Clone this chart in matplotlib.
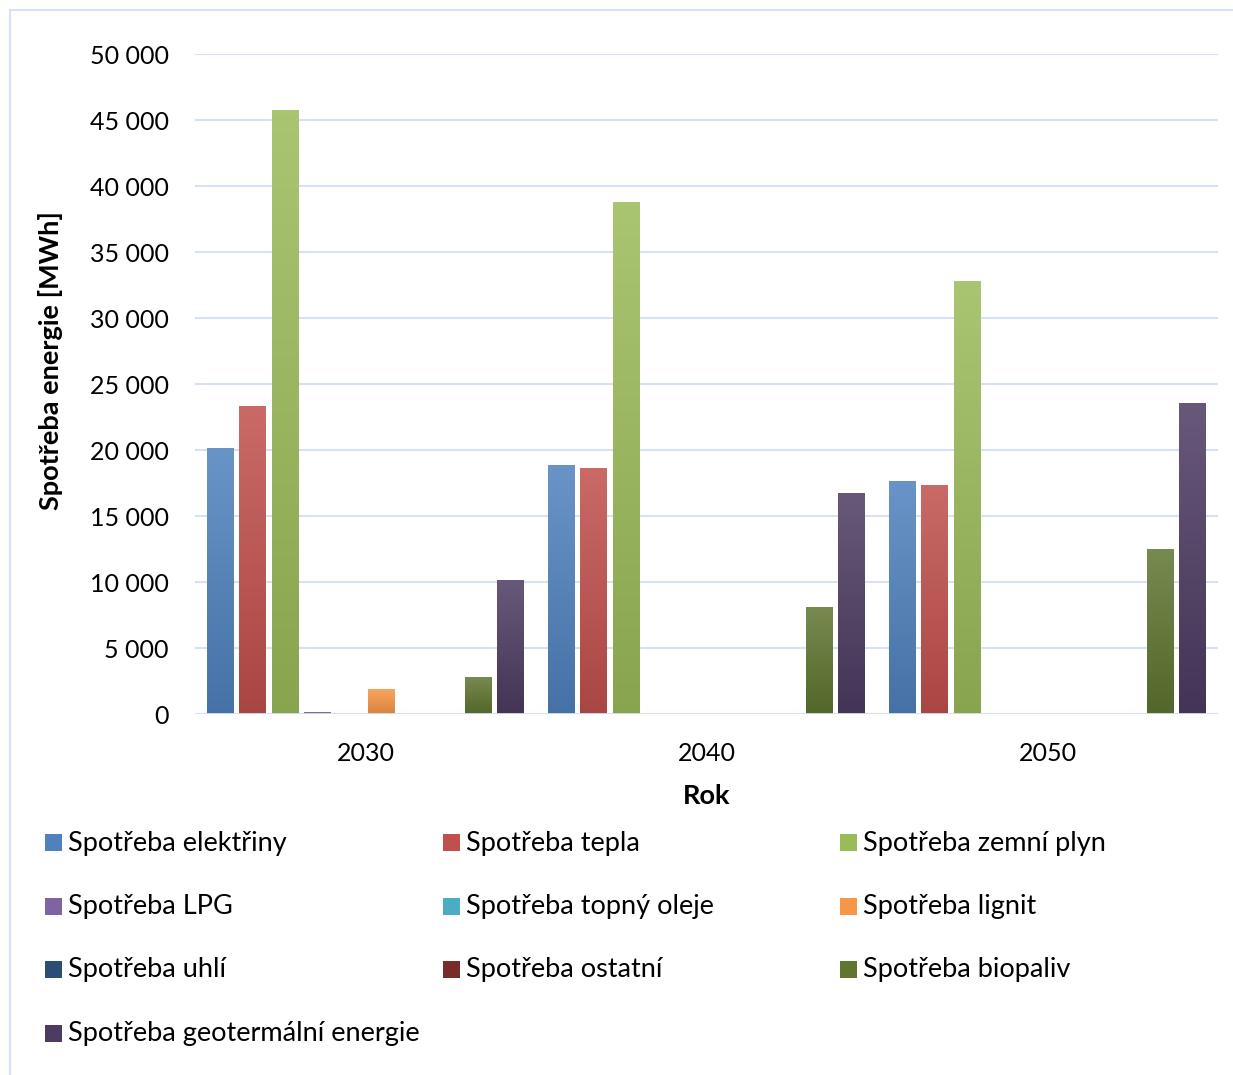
import numpy as np
import matplotlib.pyplot as plt
from matplotlib.patches import Rectangle
from matplotlib.colors import LinearSegmentedColormap, to_rgb
from matplotlib.ticker import FuncFormatter

plt.rcParams['font.family'] = ['Lato', 'DejaVu Sans']

years = ['2030', '2040', '2050']
series = ['Spotřeba elektřiny', 'Spotřeba tepla', 'Spotřeba zemní plyn',
          'Spotřeba LPG', 'Spotřeba topný oleje', 'Spotřeba lignit',
          'Spotřeba uhlí', 'Spotřeba ostatní', 'Spotřeba biopaliv',
          'Spotřeba geotermální energie']
elektriny = [20150, 18860, 17650]
tepla = [23330, 18640, 17350]
zemni_plyn = [45760, 38800, 32800]
lpg = [180, 0, 0]
topny_olej = [0, 0, 0]
lignit = [1900, 0, 0]
uhli = [0, 0, 0]
ostatni = [0, 0, 0]
biopaliv = [2800, 8100, 12500]
geotermalni = [10150, 16740, 23560]
values = [elektriny, tepla, zemni_plyn, lpg, topny_olej, lignit, uhli,
          ostatni, biopaliv, geotermalni]
colors = ['#4F81BD', '#C0504D', '#9BBB59', '#8064A2', '#4BACC6', '#F79646',
          '#2C4D75', '#772C2A', '#5F7530', '#4D3B62']


def shade(c, f):
    r = np.array(to_rgb(c))
    if f > 0:
        return tuple(r + (1 - r) * f)
    return tuple(r * (1 + f))


fig = plt.figure(figsize=(12.33, 10.75), dpi=100)
fig.patches.append(Rectangle((10 / 1233, -0.01), 1.2, 1 - 10 / 1075 + 0.01,
                             transform=fig.transFigure, fill=False,
                             edgecolor='#D6E2F3', linewidth=1.5))
ax = fig.add_axes([195 / 1233, 1 - 714 / 1075, 1023 / 1233, 660 / 1075])

x = np.arange(len(years))
step = 0.0944
width = 0.079
grad = np.linspace(0, 1, 100).reshape(-1, 1)
for i, (name, vals, c) in enumerate(zip(series, values, colors)):
    pos = x + (i - 4.5) * step
    bars = ax.bar(pos, vals, width, color=c, label=name, zorder=3)
    cmap = LinearSegmentedColormap.from_list('g', [shade(c, -0.12), shade(c, 0.15)])
    for b in bars:
        h = b.get_height()
        if h <= 0:
            continue
        im = ax.imshow(grad, cmap=cmap, origin='lower', aspect='auto', zorder=3,
                       extent=[b.get_x(), b.get_x() + b.get_width(), 0, h])
        im.set_clip_path(b)

ax.set_xlim(-0.5, 2.5)
ax.set_ylim(0, 50000)
ax.set_yticks(np.arange(0, 50001, 5000))
ax.yaxis.set_major_formatter(FuncFormatter(lambda v, p: f'{int(v):,}'.replace(',', ' ')))
ax.set_xticks(x)
ax.set_xticklabels(years)
ax.tick_params(axis='both', length=0, labelsize=18, colors='black')
ax.tick_params(axis='y', pad=19)
ax.tick_params(axis='x', pad=20)
ax.grid(axis='y', color='#D6E2F3', linewidth=1.5, zorder=0)
ax.set_axisbelow(True)
for s in ax.spines.values():
    s.set_visible(False)
ax.axhline(0, color='#D6E2F3', linewidth=2, zorder=4)

ax.set_ylabel('Spotřeba energie [MWh]', fontsize=19.5, fontweight='bold')
ax.yaxis.set_label_coords(-132 / 1023, 0.536)
ax.set_xlabel('Rok', fontsize=19.5, fontweight='bold')
ax.xaxis.set_label_coords(0.5, -70 / 660)

# legend, filled row by row
for i, (name, c) in enumerate(zip(series, colors)):
    row, col = i // 3, i % 3
    lx = 45 + col * 397.5
    ly = 843 + row * 63.5
    fig.patches.append(Rectangle((lx / 1233, 1 - (ly + 8) / 1075), 17 / 1233, 17 / 1075,
                                 transform=fig.transFigure, facecolor=c,
                                 edgecolor='none'))
    fig.text((lx + 23) / 1233, 1 - ly / 1075, name, fontsize=19.5,
             va='center', ha='left')

fig.savefig('out.png', dpi=100)
